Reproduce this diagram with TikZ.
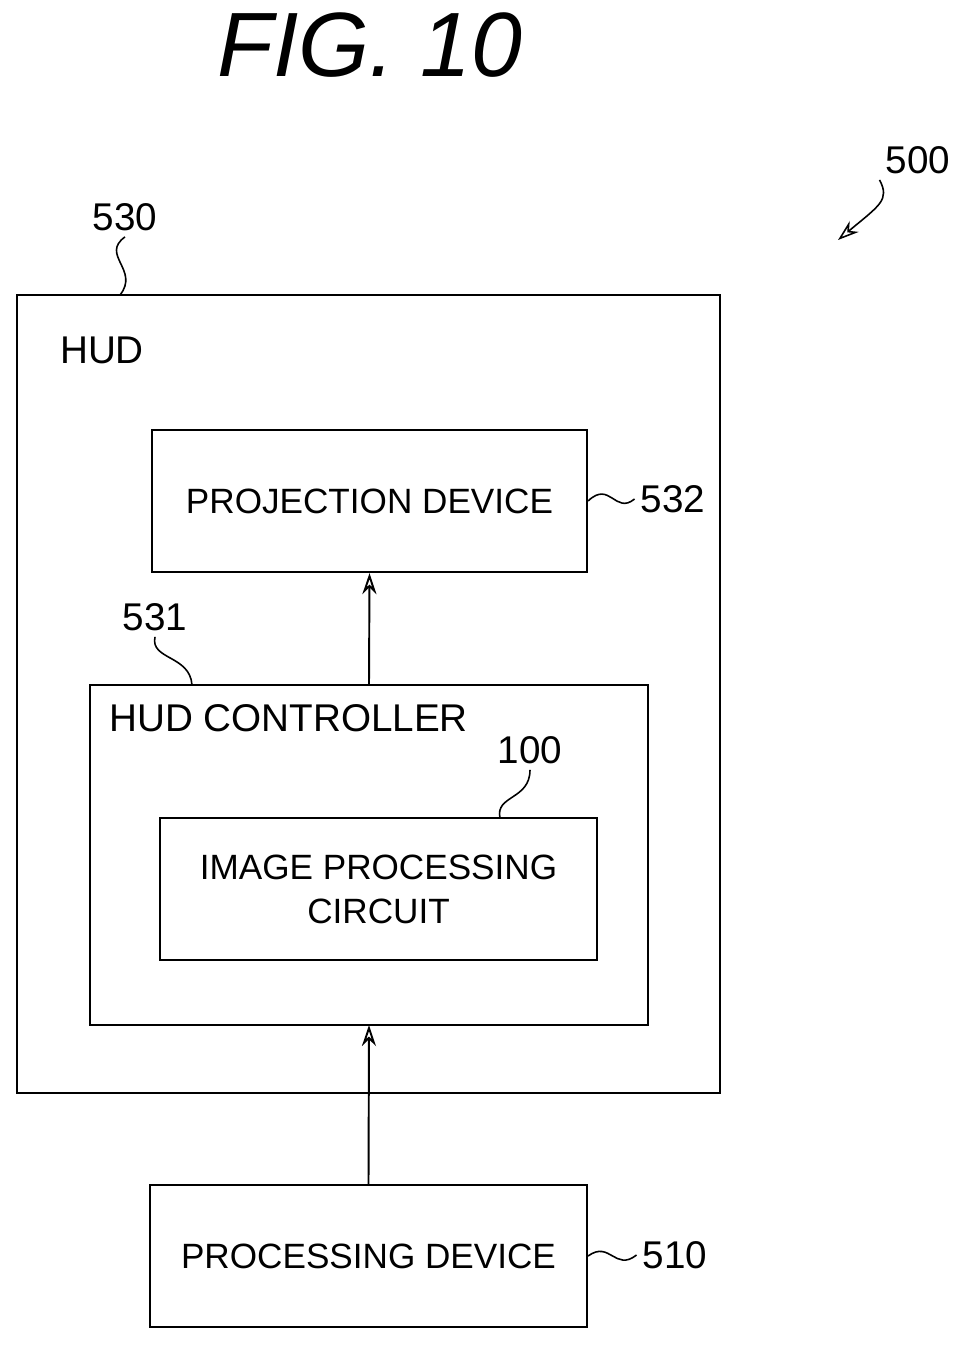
\documentclass[tikz,border=0pt]{standalone}
\usepackage{fontspec}
\setmainfont{Liberation Sans}
\usetikzlibrary{positioning,decorations.pathmorphing,arrows.meta}
\tikzset{blk/.style={draw,line width=1.2pt,inner sep=0pt,font=\fontsize{20}{25}\selectfont},
  lbl/.style={font=\fontsize{22}{26}\selectfont}}
\begin{document}
\begin{tikzpicture}[x=0.02cm,y=-0.02cm,>={Stealth[length=12pt,width=8pt,open]}]
\useasboundingbox (0,0) rectangle (959,1345);
\node[font=\fontsize{52}{56}\selectfont\itshape] (fig) at (370,45) {FIG. 10};

% boxes
\draw[blk] (17,295) rectangle (720,1093);
\node[blk,minimum width=435*0.02cm,minimum height=142*0.02cm] (proj) at (369.5,501) {PROJECTION DEVICE};
\draw[blk] (90,685) rectangle (648,1025);
\node[blk,minimum width=437*0.02cm,minimum height=142*0.02cm,align=center] (ipc) at (378.5,889) {IMAGE PROCESSING\\CIRCUIT};
\node[blk,minimum width=437*0.02cm,minimum height=142*0.02cm] (pd) at (368.5,1256) {PROCESSING DEVICE};
\coordinate (ctop) at (369,685);
\coordinate (cbot) at (369,1025);

% texts
\node[lbl] (hud) at (102,350) {HUD};
\node[lbl,anchor=west] (hudc) at (103,718) {HUD CONTROLLER};

% arrows
\draw[->,line width=1.1pt] (ctop) -- (proj.south);
\draw[->,line width=1.1pt] (pd.north) -- (cbot);

% reference numerals
\node[lbl] (n500) at (918,160) {500};
\node[lbl] (n530) at (125,217) {530};
\node[lbl] (n532) at (673,499) {532};
\node[lbl] (n531) at (155,617) {531};
\node[lbl] (n100) at (530,750) {100};
\node[lbl] (n510) at (675,1255) {510};
\coordinate (t500) at (838,240);
\coordinate (t530) at (120,295);
\coordinate (t531) at (192,685);
\coordinate (t100) at (500,818);
\draw[line width=0.9pt,->] (n500.south west) .. controls (890,200) and (880,205) .. (t500);
\draw[line width=0.9pt] (n530.south) .. controls (100,255) and (140,270) .. (t530);
\draw[line width=0.9pt] (n531.south) .. controls (150,660) and (190,655) .. (t531);
\draw[line width=0.9pt] (n100.south) .. controls (530,800) and (495,795) .. (t100);
\draw[line width=0.9pt] (proj.east) .. controls (610,480) and (615,515) .. (n532.west);
\draw[line width=0.9pt] (pd.east) .. controls (610,1240) and (615,1272) .. (n510.west);
\end{tikzpicture}
\end{document}
